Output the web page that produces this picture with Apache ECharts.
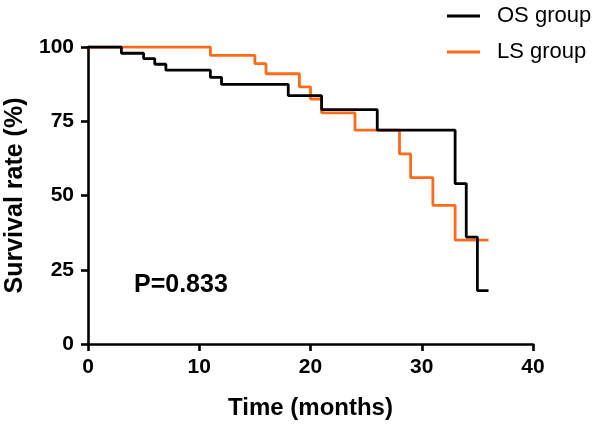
<!DOCTYPE html>
<html>
<head>
<meta charset="utf-8">
<script src="https://cdn.jsdelivr.net/npm/echarts@6/dist/echarts.min.js"></script>
<style>
html,body{margin:0;padding:0;background:#fff;}
#chart{width:603px;height:425px;}
</style>
</head>
<body>
<div id="chart"></div>
<script>
// OS group Kaplan-Meier steps
const osTimes    = [0, 3, 5, 6, 7, 11, 12, 18, 21, 26, 33, 34, 35, 36];
const osSurvival = [100, 97.9, 96.1, 94.2, 92.2, 89.8, 87.4, 83.6, 78.9, 72.0, 54.0, 36.0, 18.0, 18.0];
// LS group Kaplan-Meier steps
const lsTimes    = [0, 11, 15, 16, 19, 20, 21, 24, 28, 29, 31, 33, 36];
const lsSurvival = [100, 97.2, 94.4, 91.0, 86.6, 82.5, 77.8, 72.0, 64.0, 56.0, 46.7, 35.0, 35.0];
const seriesNames = ['OS group', 'LS group'];
const xTicks = [0, 10, 20, 30, 40];
const yTicks = [0, 25, 50, 75, 100];
const pValueText = 'P=0.833';

const toPairs = (xs, ys) => xs.map((x, i) => [x, ys[i]]);

const chart = echarts.init(document.getElementById('chart'), null, {renderer: 'canvas'});
const font = 'Liberation Sans, Arial, Helvetica, sans-serif';
chart.setOption({
  animation: false,
  backgroundColor: '#fff',
  grid: {left: 88, right: 70, top: 47, bottom: 81, containLabel: false, outerBoundsMode: 'none'},
  legend: {
    orient: 'vertical',
    left: 442, top: 0,
    itemWidth: 33, itemHeight: 3,
    itemGap: 14,
    icon: 'rect',
    textStyle: {fontFamily: font, fontSize: 22, color: '#000', padding: [0, 0, 0, 12]},
    data: seriesNames
  },
  xAxis: {
    type: 'value', min: xTicks[0], max: xTicks[xTicks.length - 1], interval: 10,
    name: 'Time (months)', nameLocation: 'middle', nameGap: 52,
    nameTextStyle: {fontFamily: font, fontSize: 24, fontWeight: 'bold', color: '#000'},
    axisLine: {show: true, lineStyle: {color: '#000', width: 2.6}},
    axisTick: {show: true, length: 7, lineStyle: {color: '#000', width: 2.6}},
    axisLabel: {fontFamily: font, fontSize: 21, fontWeight: 'bold', color: '#000', margin: 13},
    splitLine: {show: false}
  },
  yAxis: {
    type: 'value', min: yTicks[0], max: yTicks[yTicks.length - 1], interval: 25,
    name: 'Survival rate (%)', nameLocation: 'middle', nameGap: 60, nameRotate: 90,
    nameTextStyle: {fontFamily: font, fontSize: 25, fontWeight: 'bold', color: '#000'},
    axisLine: {show: true, lineStyle: {color: '#000', width: 2.6}},
    axisTick: {show: true, length: 7, lineStyle: {color: '#000', width: 2.6}},
    axisLabel: {fontFamily: font, fontSize: 21, fontWeight: 'bold', color: '#000', margin: 14},
    splitLine: {show: false}
  },
  graphic: [{
    type: 'text', left: 134, top: 273,
    style: {text: pValueText, font: 'bold 25px ' + font, fill: '#000'}
  }],
  series: [
    {
      name: seriesNames[1], type: 'line', step: 'end', showSymbol: false,
      data: toPairs(lsTimes, lsSurvival),
      lineStyle: {color: '#ff6a1a', width: 2.8}, itemStyle: {color: '#ff6a1a'}, z: 2
    },
    {
      name: seriesNames[0], type: 'line', step: 'end', showSymbol: false,
      data: toPairs(osTimes, osSurvival),
      lineStyle: {color: '#000', width: 2.8}, itemStyle: {color: '#000'}, z: 3
    }
  ]
});
</script>
</body>
</html>
